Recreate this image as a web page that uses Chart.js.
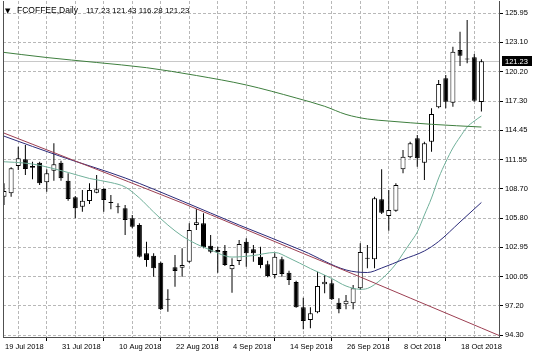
<!DOCTYPE html>
<html><head><meta charset="utf-8">
<script src="https://cdn.jsdelivr.net/npm/chart.js@4/dist/chart.umd.min.js"></script>
<style>html,body{margin:0;padding:0;background:#fff}#wrap{width:536px;height:358px}</style>
</head><body><div id="wrap"><canvas id="c" width="536" height="358"></canvas></div>
<script>
const symbolName = 'FCOFFEE,Daily';
const lastBarOHLC = ['117.23', '121.43', '116.28', '121.23'];
const lastPrice = 121.23;

const opens = [107.91,108.24,110.93,111.59,110.93,111.25,109.32,110.47,111.25,109.48,
107.85,106.92,107.48,108.30,108.66,107.36,106.96,106.77,105.78,105.12,
102.34,102.10,101.41,97.85,100.96,100.92,101.51,105.12,105.29,103.09,
102.66,102.57,100.76,101.58,103.48,102.73,102.00,101.26,100.20,101.75,
100.43,99.52,97.03,95.78,96.53,99.29,99.39,97.48,97.32,97.42,
98.90,101.89,101.75,107.65,106.01,106.53,110.60,111.78,113.65,111.25,
113.32,116.70,119.56,117.15,122.34,121.49,121.62,117.23];
const highs = [109.23,110.80,112.83,112.99,111.35,111.35,110.60,113.16,111.45,110.21,
107.98,108.57,109.23,110.04,108.73,108.07,107.26,107.09,106.11,105.29,
103.48,102.34,101.51,98.80,102.17,102.83,105.29,106.70,106.27,104.14,
102.99,103.16,101.85,103.65,103.81,103.16,102.99,101.61,102.34,102.00,
100.63,99.64,97.97,97.03,100.53,100.20,99.78,97.91,98.24,99.22,
103.32,103.16,107.91,110.60,108.57,109.23,112.50,113.32,113.98,113.32,
116.60,119.39,119.88,122.66,124.14,125.29,121.95,121.43];
const lows = [107.09,107.91,110.53,110.04,109.62,109.06,108.40,109.48,109.48,107.51,
105.78,106.43,107.19,108.24,106.43,106.67,106.27,104.14,104.80,101.93,
101.02,100.04,96.76,96.59,99.05,100.04,101.41,104.63,102.83,102.34,
100.43,101.09,98.46,101.19,101.02,101.51,100.86,99.98,99.88,100.04,
99.22,96.98,94.86,94.96,96.44,98.40,97.74,96.44,96.83,96.83,
98.73,100.86,100.86,106.21,104.56,106.43,110.21,111.69,110.86,109.55,
112.33,116.60,116.60,116.76,120.77,121.03,117.25,116.28];
const closes = [108.47,110.70,111.68,110.63,110.76,109.23,110.21,111.09,109.72,107.68,
106.77,107.51,108.57,108.64,107.58,107.28,106.88,105.61,104.96,102.00,
101.68,100.86,96.83,97.77,100.60,101.19,104.63,105.39,102.93,102.50,
102.44,101.19,101.19,103.25,102.34,102.34,101.19,100.11,102.00,100.30,
99.71,97.03,95.68,96.44,99.12,99.54,97.81,96.83,97.68,98.90,
102.47,101.81,107.75,106.33,106.60,109.06,111.84,113.16,111.69,113.16,
116.04,118.99,117.25,122.17,121.78,121.41,117.35,121.23];

// moving-average lines (bar index, price)
const maSlowBars   = [-1, 6, 13, 20, 27, 34, 41, 45, 48, 51, 54, 60, 67];
const maSlowValues = [122.19,121.60,121.11,120.60,119.83,118.90,117.62,116.80,116.00,115.55,115.35,115.03,114.76];
const maTrendBars   = [-1, 10, 25, 33, 42, 50, 57, 67, 70];
const maTrendValues = [114.44,111.42,107.29,104.96,102.32,100.01,97.94,94.99,94.10];
const maMidBars   = [-1, 4, 8, 17, 25, 33, 42, 48, 51, 53, 56, 59, 61, 64, 67];
const maMidValues = [114.12,112.85,111.86,109.75,107.48,105.12,102.57,100.70,100.45,100.89,101.73,102.57,103.50,105.42,107.34];
const maFastBars   = [-1, 4, 9, 12, 15, 17, 19, 21, 23, 25, 27, 29, 32, 35, 38, 40, 43, 46, 48, 50, 51, 53, 55, 56, 57, 58, 59, 60, 61, 62, 63, 64, 65, 66, 67];
const maFastValues = [111.39,111.12,110.29,109.70,109.30,108.86,107.78,106.40,105.12,104.04,103.25,102.66,101.97,102.12,102.42,101.88,100.84,99.86,99.12,98.80,98.88,99.81,101.29,102.32,103.35,104.43,106.11,107.78,109.75,111.32,112.70,113.78,114.76,115.35,115.85];

const dateTickBars = [0, 8, 16, 24, 32, 40, 48, 56, 64];
const dateTickLabels = ['19 Jul 2018','31 Jul 2018','10 Aug 2018','22 Aug 2018','4 Sep 2018','14 Sep 2018','26 Sep 2018','8 Oct 2018','18 Oct 2018'];
const gridBars = [0,4,8,12,16,20,24,28,32,36,40,44,48,52,56,60,64,68];
const priceTicks = [94.30, 97.20, 100.05, 102.95, 105.80, 108.70, 111.55, 114.45, 117.30, 120.20, 123.10, 125.95];

const X_MIN = -0.14, X_MAX = 69.47, Y_MIN = 94.105, Y_MAX = 127.16;
const FONT = '"Liberation Sans", Arial, sans-serif';

const wickData = lows.map((l, i) => ({x: i, y: [l, highs[i]]}));
const bodyData = opens.map((o, i) => ({x: i, y: [o, closes[i]]}));
const bodyFill = opens.map((o, i) => closes[i] > o ? '#ffffff' : '#000000');
const toPts = (bars, vals) => bars.map((b, i) => ({x: b, y: vals[i]}));

const lineDs = (bars, vals, color) => ({
  type: 'line', data: toPts(bars, vals), borderColor: color, borderWidth: 1,
  pointRadius: 0, fill: false, cubicInterpolationMode: 'monotone', order: 0
});

const overlay = {
  id: 'overlay',
  beforeDatasetsDraw(chart) {
    const {ctx, chartArea: a, scales: {y}} = chart;
    const py = Math.round(y.getPixelForValue(lastPrice)) + 0.5;
    ctx.save();
    ctx.strokeStyle = '#c8c8c8'; ctx.lineWidth = 1;
    ctx.beginPath(); ctx.moveTo(a.left, py); ctx.lineTo(a.right, py); ctx.stroke();
    ctx.restore();
  },
  afterDraw(chart) {
    const {ctx, chartArea: a, scales: {y}} = chart;
    ctx.save();
    ctx.strokeStyle = '#505050'; ctx.lineWidth = 1;
    ctx.beginPath(); ctx.moveTo(a.left + 0.5, a.top); ctx.lineTo(a.left + 0.5, a.bottom); ctx.stroke();
    const py = y.getPixelForValue(lastPrice);
    ctx.fillStyle = '#000';
    ctx.fillRect(a.right + 3, Math.round(py) - 5, 30, 10);
    ctx.fillStyle = '#fff'; ctx.font = '7.5px ' + FONT; ctx.textBaseline = 'middle'; ctx.textAlign = 'left';
    ctx.fillText(lastPrice.toFixed(2), a.right + 6, py + 0.5);
    ctx.fillStyle = '#000';
    ctx.font = '7px "DejaVu Sans"';
    ctx.textBaseline = 'alphabetic';
    ctx.fillText('▼', 5, 13);
    ctx.font = '8.5px ' + FONT;
    ctx.fillText(symbolName, 17, 13);
    ctx.font = '8px ' + FONT;
    ctx.fillText(lastBarOHLC.join(' '), 86, 13);
    ctx.restore();
  }
};

new Chart(document.getElementById('c'), {
  type: 'bar',
  data: {
    datasets: [
      lineDs(maSlowBars, maSlowValues, '#3f7f3f'),
      lineDs(maTrendBars, maTrendValues, '#9c3f52'),
      lineDs(maMidBars, maMidValues, '#2b2b7a'),
      lineDs(maFastBars, maFastValues, '#70b09a'),
      {type: 'bar', data: bodyData, backgroundColor: bodyFill, borderColor: '#000', borderWidth: 1,
       borderSkipped: false, barThickness: 5, grouped: false, minBarLength: 1, inflateAmount: 0, order: 1},
      {type: 'bar', data: wickData, backgroundColor: '#000', borderWidth: 0,
       barThickness: 1, grouped: false, inflateAmount: 0, order: 2}
    ]
  },
  options: {
    responsive: false, animation: false, devicePixelRatio: 1,
    layout: {padding: {left: 3, top: 1, right: 0, bottom: 0}},
    plugins: {legend: {display: false}, tooltip: {enabled: false}, title: {display: false}},
    scales: {
      x: {
        type: 'linear', min: X_MIN, max: X_MAX, offset: false,
        afterBuildTicks: s => { s.ticks = gridBars.map(v => ({value: v})); },
        afterFit: s => { s.height = 21; s.paddingLeft = 0; s.paddingRight = 0; },
        ticks: {
          autoSkip: false, maxRotation: 0, minRotation: 0, align: 'start', padding: 1, labelOffset: 1,
          color: '#000', font: {family: FONT, size: 7.5},
          callback: v => { const k = dateTickBars.indexOf(v); return k >= 0 ? dateTickLabels[k] : ''; }
        },
        grid: {
          color: '#b8b8b8', lineWidth: 1, tickLength: 4,
          tickColor: c => dateTickBars.includes(c.tick && c.tick.value) ? '#000' : 'rgba(0,0,0,0)'
        },
        border: {display: true, color: '#505050', width: 1, dash: [3, 2]}
      },
      y: {
        type: 'linear', position: 'right', min: Y_MIN, max: Y_MAX,
        afterBuildTicks: s => { s.ticks = priceTicks.map(v => ({value: v})); },
        afterFit: s => { s.width = 37; s.paddingTop = 0; s.paddingBottom = 0; },
        ticks: {padding: 2, color: '#000', font: {family: FONT, size: 7.5}, callback: v => v.toFixed(2)},
        grid: {color: '#b8b8b8', lineWidth: 1, tickLength: 4, tickColor: '#000'},
        border: {display: true, color: '#505050', width: 1, dash: [3, 2]}
      }
    }
  },
  plugins: [overlay]
});
</script>
</body></html>
